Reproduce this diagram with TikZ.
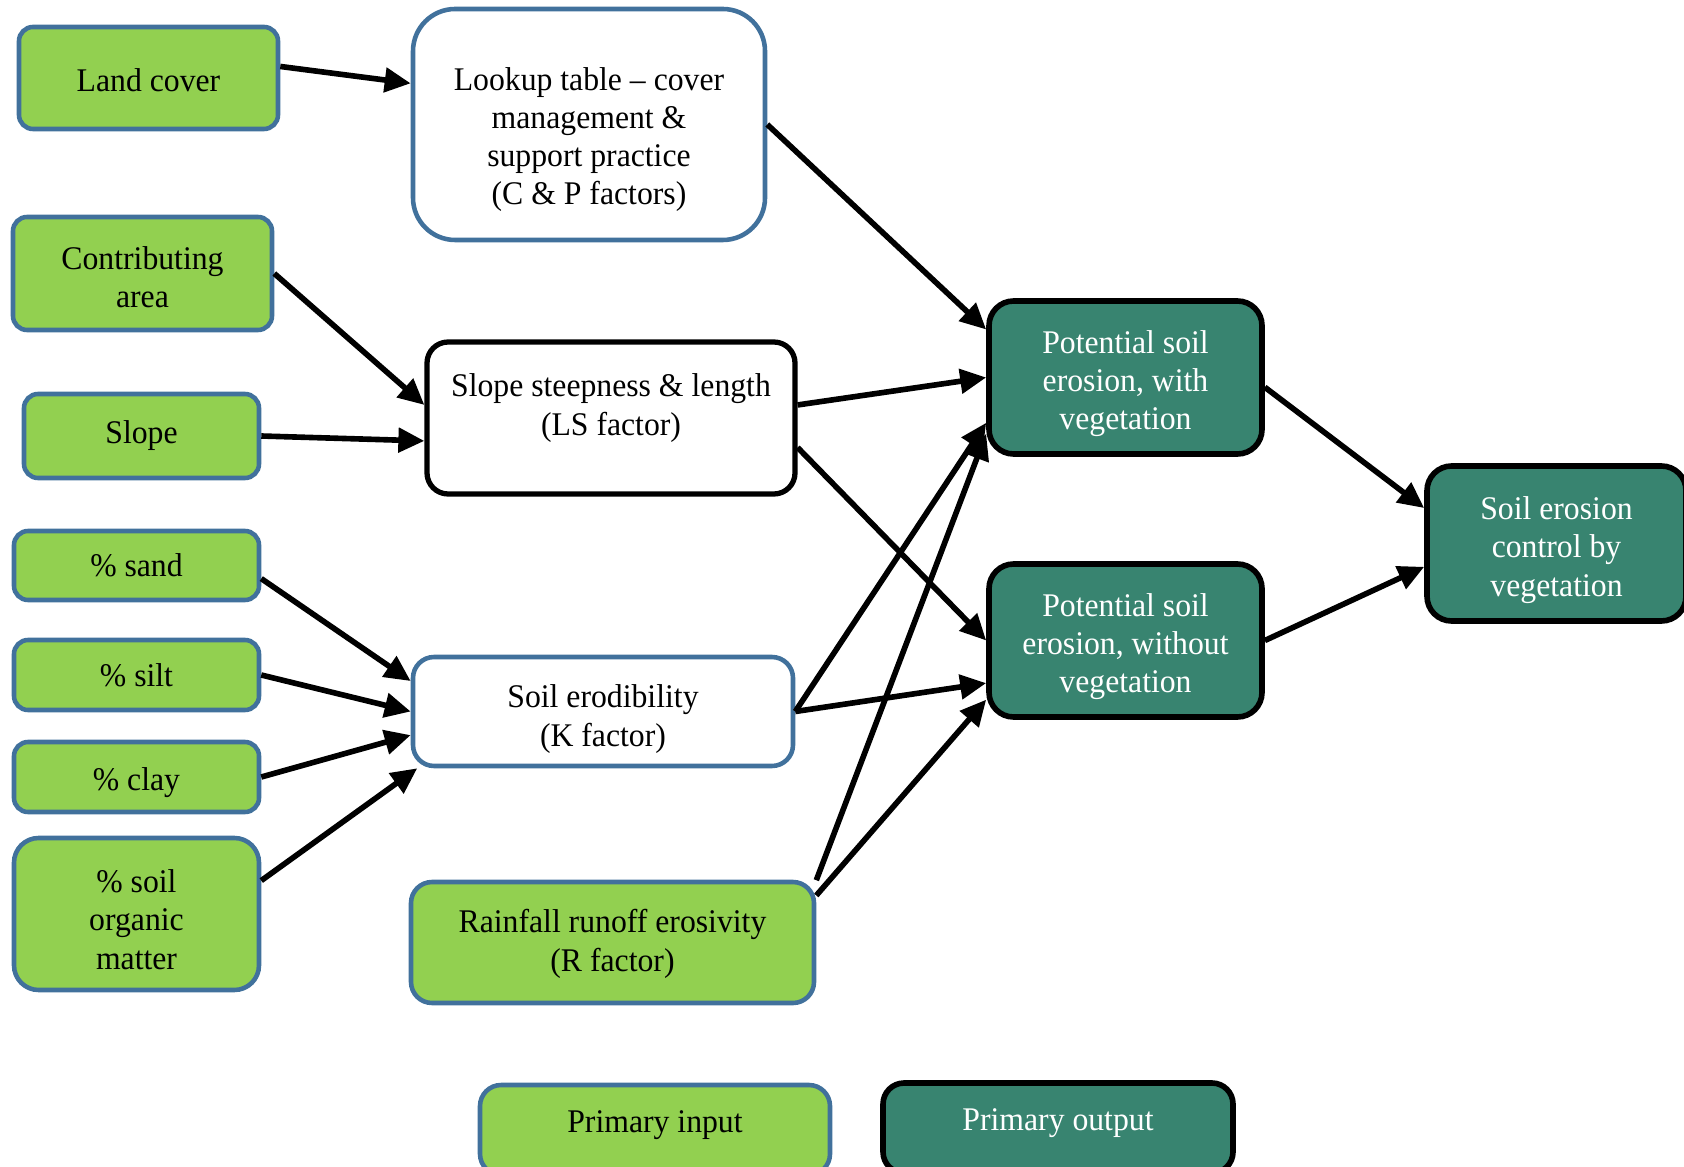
\documentclass[tikz,border=0pt]{standalone}
\usepackage{fontspec}
\setmainfont{Liberation Serif}[FakeStretch=0.96]
\definecolor{inputgreen}{HTML}{92D050}
\definecolor{outputteal}{HTML}{388470}
\definecolor{boxblue}{HTML}{41719C}
\usetikzlibrary{arrows.meta}
% struts that push a node's text down (top) or up (bottom)
\newcommand{\toppush}[1]{\rule{0pt}{#1}}
\newcommand{\botpush}[1]{\rule[-#1]{0pt}{#1}}
\tikzset{
    factorbox/.style={
        draw=boxblue,
        fill=white,
        line width=1.3pt,
        rounded corners=4pt,
        inner sep=0pt,
        align=center,
        font=\fontsize{9.4}{10.9}\selectfont
    },
    inputbox/.style={
        factorbox,
        fill=inputgreen
    },
    outputbox/.style={
        factorbox,
        draw=black,
        fill=outputteal,
        text=white,
        line width=1.6pt,
        rounded corners=7pt
    },
    flowarrow/.style={
        -{Triangle[length=2.6mm,width=2.4mm]},
        draw=black,
        line width=1.6pt
    }
}

\begin{document}
\begin{tikzpicture}[
        boxsize/.style 2 args={minimum width=#1cm,minimum height=#2cm}
    ]
        \useasboundingbox (0,0) rectangle (16.84,-11.67);

        % inputs
        \node[inputbox,boxsize={2.59}{1.02}] (landcover) at (1.485,-0.78)
            {\toppush{0.27cm}Land cover};
        \node[inputbox,boxsize={2.59}{1.13}] (contrib) at (1.425,-2.735)
            {\toppush{0.31cm}Contributing\\area};
        \node[inputbox,boxsize={2.35}{0.84}] (slope) at (1.415,-4.36)
            {Slope};
        \node[inputbox,boxsize={2.45}{0.69}] (sand) at (1.365,-5.655)
            {\% sand};
        \node[inputbox,boxsize={2.45}{0.70}] (silt) at (1.365,-6.75)
            {\% silt};
        \node[inputbox,boxsize={2.45}{0.70}] (clay) at (1.365,-7.77)
            {\toppush{0.34cm}\% clay};
        \node[inputbox,boxsize={2.45}{1.52},rounded corners=7pt] (organic) at (1.365,-9.14)
            {\toppush{0.34cm}\% soil\\organic\\matter};
        \node[inputbox,boxsize={4.03}{1.21},rounded corners=6pt] (rain) at (6.125,-9.425)
            {\toppush{0.26cm}Rainfall runoff erosivity\\(R factor)};

        % factors
        \node[factorbox,boxsize={3.52}{2.31},rounded corners=12pt] (lookup) at (5.89,-1.245)
            {\toppush{0.53cm}Lookup table – cover\\management \&\\support practice\\(C \& P factors)};
        \node[factorbox,boxsize={3.68}{1.52},draw=black,line width=1.5pt,rounded corners=6pt] (steep) at (6.11,-4.18)
            {Slope steepness \& length\\(LS factor)\botpush{0.27cm}};
        \node[factorbox,boxsize={3.80}{1.09},rounded corners=6pt] (erod) at (6.03,-7.115)
            {\toppush{0.38cm}Soil erodibility\\(K factor)};

        % outputs
        \node[outputbox,boxsize={2.73}{1.53}] (withveg) at (11.255,-3.775)
            {\toppush{0.35cm}Potential soil\\erosion, with\\vegetation};
        \node[outputbox,boxsize={2.73}{1.53}] (noveg) at (11.255,-6.405)
            {\toppush{0.35cm}Potential soil\\erosion, without\\vegetation};
        \node[outputbox,boxsize={2.59}{1.55}] (control) at (15.565,-5.435)
            {\toppush{0.36cm}Soil erosion\\control by\\vegetation};

        % legend
        \node[inputbox,boxsize={3.5}{0.9},rounded corners=6pt] (legendin) at (6.55,-11.3)
            {Primary input\botpush{0.17cm}};
        \node[outputbox,boxsize={3.5}{0.9},rounded corners=6pt] (legendout) at (10.58,-11.28)
            {Primary output\botpush{0.17cm}};

        \draw[flowarrow] (landcover.5) -- (lookup.167);
        \draw[flowarrow] (lookup.east) -- (withveg.161);
        \draw[flowarrow] (contrib.east) -- (steep.176);
        \draw[flowarrow] (slope.east) -- (steep.187);
        \draw[flowarrow] (steep.4) -- (withveg.west);
        \draw[flowarrow] (steep.351) -- (noveg.west);
        \draw[flowarrow] (sand.354) -- (erod.171);
        \draw[flowarrow] (silt.east) -- (erod.west);
        \draw[flowarrow] (clay.east) -- (erod.187);
        \draw[flowarrow] (organic.15) -- (erod.197);
        \draw[flowarrow] (erod.east) -- (withveg.198);
        \draw[flowarrow] (erod.east) -- (noveg.197);
        \draw[flowarrow] (rain.17) -- (withveg.202);
        \draw[flowarrow] (rain.13) -- (noveg.203);
        \draw[flowarrow] (withveg.356) -- (control.165);
        \draw[flowarrow] (noveg.east) -- (control.190);
    \end{tikzpicture}
\end{document}
